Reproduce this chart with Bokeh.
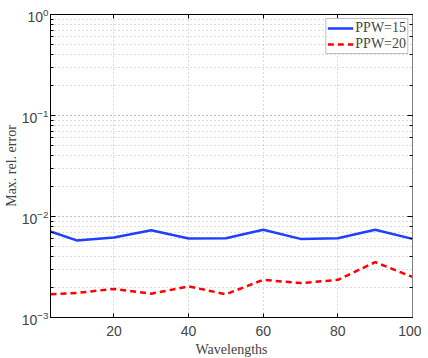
from bokeh.plotting import figure
from bokeh.models import (LogAxis, LinearAxis, Legend, LegendItem, Range1d, FixedTicker,
                          LogTicker, CustomJSTickFormatter)
from bokeh.embed import file_html
from bokeh.resources import INLINE

wavelengths = [3, 10, 20, 30, 40, 50, 60, 70, 80, 90, 100]
err_ppw15 = [7.1e-3, 5.8e-3, 6.2e-3, 7.3e-3, 6.05e-3, 6.1e-3, 7.4e-3, 6.0e-3, 6.1e-3, 7.4e-3, 6.0e-3]
err_ppw20 = [1.70e-3, 1.75e-3, 1.92e-3, 1.72e-3, 2.03e-3, 1.70e-3, 2.36e-3, 2.19e-3, 2.36e-3, 3.53e-3, 2.52e-3]
x_ticks = [20, 40, 60, 80, 100]
labels = ["PPW=15", "PPW=20"]

p = figure(output_backend="svg", toolbar_location=None, y_axis_type="log",
           frame_width=362, frame_height=303,
           x_range=Range1d(3, 100), y_range=Range1d(1e-3, 1),
           min_border_left=10, min_border_right=9, min_border_top=14, min_border_bottom=10)
p.background_fill_color = "white"
p.border_fill_color = "white"
p.outline_line_color = "black"
p.outline_line_width = 1

r1 = p.line(wavelengths, err_ppw15, line_color="#2040ff", line_width=2.5)
r2 = p.line(wavelengths, err_ppw20, line_color="#ff0000", line_width=2.5, line_dash="6 4")

tick_font = "Liberation Sans"
serif = "Liberation Serif"

xa = p.xaxis[0]
xa.ticker = FixedTicker(ticks=x_ticks)
xa.major_tick_in = 4
xa.major_tick_out = 0
xa.minor_tick_line_color = None
xa.major_label_text_font = tick_font
xa.major_label_text_font_size = "14px"
xa.major_label_standoff = 8
xa.axis_label = "Wavelengths"
xa.axis_label_text_font = serif
xa.axis_label_text_font_style = "normal"
xa.axis_label_text_font_size = "14px"
xa.axis_label_standoff = 3
xa.axis_line_color = "black"

ya = p.yaxis[0]
ya.major_tick_in = 5
ya.major_tick_out = 0
ya.minor_tick_in = 3
ya.minor_tick_out = 0
ya.major_label_text_font = tick_font
ya.major_label_text_font_size = "14px"
ya.major_label_standoff = 2
ya.axis_label = "Max. rel. error"
ya.axis_label_text_font = serif
ya.axis_label_text_font_style = "normal"
ya.axis_label_text_font_size = "14px"
ya.axis_label_standoff = 0

empty = CustomJSTickFormatter(code="return ''")
ra = LogAxis(ticker=LogTicker(), formatter=empty,
             major_tick_in=5, major_tick_out=0, minor_tick_in=3, minor_tick_out=0,
             major_label_standoff=0, axis_line_color="#808080")
p.add_layout(ra, "right")
ta = LinearAxis(ticker=FixedTicker(ticks=x_ticks), formatter=CustomJSTickFormatter(code="return ''"),
                major_tick_in=4, major_tick_out=0, minor_tick_line_color=None,
                major_label_standoff=0, axis_line_color="black")
p.add_layout(ta, "above")

p.xgrid.ticker = FixedTicker(ticks=x_ticks)
for g in (p.xgrid[0], p.ygrid[0]):
    g.grid_line_color = "#b8b8b8"
    g.grid_line_dash = "1 3"
    g.grid_line_width = 1
p.ygrid.minor_grid_line_color = "#b8b8b8"
p.ygrid.minor_grid_line_dash = "1 3"

legend = Legend(items=[LegendItem(label=labels[0], renderers=[r1]),
                       LegendItem(label=labels[1], renderers=[r2])],
                location="top_right")
legend.label_text_font = serif
legend.label_text_font_size = "14px"
legend.border_line_color = "#808080"
legend.border_line_width = 1
legend.padding = 1
legend.spacing = 0
legend.margin = 4
legend.glyph_width = 26
legend.glyph_height = 14
legend.label_height = 14
legend.label_standoff = 2
legend.background_fill_alpha = 1
p.add_layout(legend)

open("out.html", "w").write(file_html(p, INLINE))
